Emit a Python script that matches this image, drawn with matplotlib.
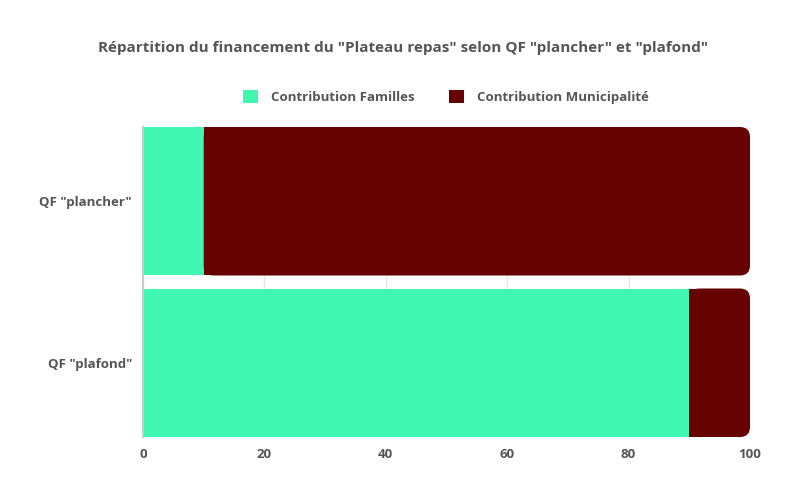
import matplotlib
matplotlib.use("Agg")
import matplotlib.pyplot as plt
from matplotlib.patches import FancyBboxPatch, Patch

categories = ['QF "plancher"', 'QF "plafond"']
familles = [10, 90]
municipalite = [90, 10]
series_names = ["Contribution Familles", "Contribution Municipalité"]
xticks = [0, 20, 40, 60, 80, 100]

c_fam = "#3ff7b0"
c_mun = "#660202"
txt = "#555555"

plt.rcParams['font.family'] = ['Open Sans', 'DejaVu Sans']

W, H = 804, 491
fig = plt.figure(figsize=(W/100, H/100), dpi=100)
ax_l, ax_r, ax_t, ax_b = 143, 750, 127, 437
ax = fig.add_axes([ax_l/W, 1-ax_b/H, (ax_r-ax_l)/W, (ax_b-ax_t)/H])

h = 0.9195
y = list(range(len(categories)))
ax.set_xlim(0, 100)
ax.set_ylim(1 + h/2, -h/2)

ax.barh(y, familles, height=h, color=c_fam, zorder=2)

# rounded right end for last segment
xpp = 100 / (ax_r - ax_l)          # data x per pixel
ypp = (1 + h) / (ax_b - ax_t)      # data y per pixel
r_px = 10
r = r_px * xpp
aspect = ypp / xpp
for yi, f, m in zip(y, familles, municipalite):
    p = FancyBboxPatch((f, yi - h/2), m, h,
                       boxstyle=f"round,pad=0,rounding_size={r}",
                       mutation_aspect=aspect, facecolor=c_mun,
                       edgecolor="none", zorder=2)
    ax.add_patch(p)
ax.barh(y, [mm - r for mm in municipalite], left=familles, height=h,
        color=c_mun, zorder=2)

ax.set_xticks(xticks)
ax.set_xticklabels([str(t) for t in xticks])
ax.set_yticks(y)
ax.set_yticklabels(categories)
ax.tick_params(axis='both', length=0, colors=txt, labelsize=9.5)
for lab in ax.get_xticklabels() + ax.get_yticklabels():
    lab.set_fontweight('bold')
ax.tick_params(axis='x', pad=8)
ax.tick_params(axis='y', pad=8)

ax.grid(axis='x', color="#e6e6e6", linewidth=1, zorder=0)
ax.set_axisbelow(True)
for s in ['top', 'right', 'bottom']:
    ax.spines[s].set_visible(False)
ax.spines['left'].set_color("#cccccc")
ax.spines['left'].set_linewidth(1.5)
ax.spines['left'].set_zorder(3)

fig.text(403/W, 1-48/H, 'Répartition du financement du "Plateau repas" selon QF "plancher" et "plafond"',
         ha='center', va='center', fontsize=11, fontweight='bold', color=txt)

handles = [Patch(facecolor=c_fam, edgecolor='none'), Patch(facecolor=c_mun, edgecolor='none')]
fig.legend(handles, series_names, loc='center', bbox_to_anchor=(446/W, 1-97/H), ncol=2,
           frameon=False, handlelength=1.15, handleheight=1.15, handletextpad=1.0,
           columnspacing=2.6, prop={'weight': 'bold', 'size': 9.5}, labelcolor=txt)

fig.savefig("out.png", dpi=100)
